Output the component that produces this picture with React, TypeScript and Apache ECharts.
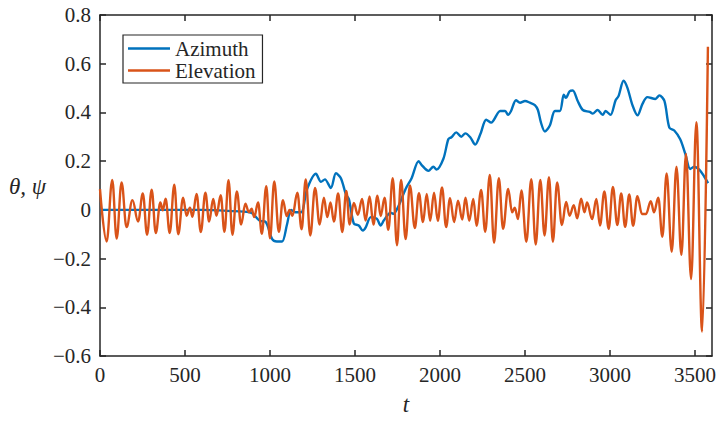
import React, { useEffect, useRef } from 'react';
import * as echarts from 'echarts';

const seriesNames = ['Azimuth', 'Elevation'];
const xAxisName = 't';
const yAxisName = 'θ, ψ';

// [t, value] samples
const azimuth: [number, number][] = [
  [0, 0], [300, 0], [600, 0], [780, -0.005], [880, -0.01], [900, -0.016], [940, -0.045], [975, -0.05],
  [1013, -0.12], [1040, -0.13], [1071, -0.13], [1100, -0.06], [1124, 0], [1150, -0.01], [1183, -0.01],
  [1218, 0.085], [1270, 0.148], [1300, 0.115], [1323, 0.125], [1358, 0.09], [1388, 0.15], [1417, 0.13],
  [1446, 0.065], [1464, 0.044], [1493, -0.056], [1522, -0.064], [1546, -0.085], [1563, -0.072],
  [1593, -0.03], [1628, -0.036], [1651, -0.064], [1669, -0.044], [1710, -0.012], [1727, -0.016],
  [1756, 0.016], [1797, 0.085], [1833, 0.13], [1874, 0.2], [1891, 0.185], [1932, 0.16], [1961, 0.177],
  [1979, 0.165], [2020, 0.21], [2049, 0.29], [2067, 0.298], [2096, 0.318], [2125, 0.3], [2149, 0.314],
  [2178, 0.298], [2207, 0.268], [2237, 0.31], [2272, 0.37], [2301, 0.358], [2354, 0.406], [2383, 0.406],
  [2400, 0.39], [2418, 0.406], [2447, 0.45], [2471, 0.44], [2500, 0.447], [2529, 0.44], [2558, 0.43],
  [2576, 0.41], [2594, 0.358], [2617, 0.322], [2646, 0.346], [2676, 0.406], [2705, 0.406], [2728, 0.473],
  [2740, 0.46], [2763, 0.487], [2781, 0.49], [2810, 0.447], [2840, 0.41], [2881, 0.402], [2898, 0.395],
  [2927, 0.41], [2957, 0.39], [2974, 0.406], [3003, 0.39], [3033, 0.45], [3050, 0.467], [3080, 0.53],
  [3103, 0.5], [3132, 0.43], [3162, 0.388], [3191, 0.435], [3220, 0.463], [3267, 0.455], [3290, 0.47],
  [3320, 0.447], [3349, 0.338], [3378, 0.326], [3413, 0.29], [3443, 0.23], [3472, 0.168], [3495, 0.177],
  [3525, 0.165], [3554, 0.137], [3577, 0.11],
];

// peaks and troughs of the elevation oscillation
const elevation: [number, number][] = [
  [0, 0.085], [39, -0.13], [72, 0.123], [98, -0.118], [127, 0.113], [156, -0.071], [191, 0.04], [224, -0.048],
  [252, 0.067], [277, -0.102], [304, 0.083], [328, -0.095], [355, 0.03], [369, -0.002], [386, 0.046],
  [410, -0.095], [437, 0.103], [460, -0.1], [489, 0.05], [509, -0.024], [529, 0.009], [544, -0.028],
  [568, 0.065], [593, -0.091], [620, 0.07], [642, -0.048], [666, 0.045], [685, -0.024], [710, 0.06],
  [732, -0.09], [756, 0.122], [779, -0.102], [805, 0.076], [830, -0.06], [855, 0.025], [876, -0.01],
  [892, 0.005], [907, -0.03], [930, 0.03], [952, -0.098], [978, 0.097], [1000, -0.117], [1025, 0.117],
  [1052, -0.09], [1076, 0.04], [1098, -0.025], [1115, 0.0], [1132, -0.024], [1161, 0.07], [1186, -0.08],
  [1210, 0.125], [1237, -0.105], [1265, 0.09], [1292, -0.06], [1317, 0.05], [1337, -0.03], [1356, 0.03],
  [1376, -0.048], [1401, 0.067], [1425, -0.091], [1449, 0.078], [1468, -0.06], [1493, 0.028], [1517, -0.02],
  [1542, 0.045], [1562, -0.044], [1586, 0.055], [1608, -0.06], [1632, 0.058], [1651, -0.025], [1674, 0.05],
  [1696, -0.082], [1722, 0.13], [1747, -0.145], [1771, 0.123], [1798, -0.12], [1823, 0.1], [1852, -0.075],
  [1876, 0.068], [1900, -0.05], [1922, 0.065], [1942, -0.045], [1965, 0.07], [1987, -0.045], [2012, 0.092],
  [2036, -0.071], [2059, 0.048], [2083, -0.05], [2106, 0.038], [2131, -0.04], [2150, 0.05], [2172, -0.045],
  [2196, 0.045], [2215, -0.065], [2242, 0.082], [2266, -0.09], [2293, 0.143], [2318, -0.135], [2346, 0.13],
  [2371, -0.078], [2401, 0.086], [2424, -0.01], [2440, 0.009], [2459, -0.038], [2479, 0.08], [2508, -0.131],
  [2537, 0.126], [2563, -0.142], [2590, 0.123], [2615, -0.105], [2641, 0.134], [2664, -0.131], [2689, 0.113],
  [2717, -0.062], [2742, 0.032], [2762, -0.024], [2787, 0.019], [2807, -0.035], [2830, 0.046], [2850, -0.01],
  [2865, 0.03], [2895, -0.038], [2920, 0.045], [2941, -0.064], [2967, 0.076], [2992, -0.078], [3017, 0.094],
  [3043, -0.062], [3066, 0.067], [3089, -0.07], [3113, 0.063], [3136, -0.065], [3161, 0.056], [3188, -0.017],
  [3212, -0.017], [3240, 0.036], [3259, -0.01], [3284, 0.05], [3308, -0.111], [3333, 0.149], [3363, -0.172],
  [3391, 0.177], [3420, -0.185], [3447, 0.23], [3477, -0.284], [3508, 0.36], [3542, -0.5], [3576, 0.67],
];

const xRange = { min: 0, max: 3600, interval: 500 };
const yRange = { min: -0.6, max: 0.8, interval: 0.2 };

export default function App() {
  const ref = useRef<HTMLDivElement>(null);
  useEffect(() => {
    const chart = echarts.init(ref.current!, null, { renderer: 'svg' });
    const font = 'Liberation Serif';
    const ink = '#262626';
    const axisLine = { show: true, onZero: false, lineStyle: { color: ink, width: 1.5 } };
    const axisTick = { show: true, inside: true, length: 6, lineStyle: { color: ink, width: 1.5 } };
    const fmtY = (v: number) => {
      const r = Math.round(v * 10) / 10;
      if (r === 0) return '0';
      return (r < 0 ? '\u2212' : '') + Math.abs(r).toFixed(1);
    };
    const fmtX = (v: number) => String(Math.round(v));
    chart.setOption({
      animation: false,
      backgroundColor: '#ffffff',
      grid: { left: 100, right: 3, top: 15, bottom: 58, containLabel: false },
      xAxis: [
        {
          type: 'value', ...xRange, position: 'bottom',
          axisLine, axisTick,
          axisLabel: { color: ink, fontFamily: font, fontSize: 21, margin: 8, showMaxLabel: false, formatter: fmtX },
          splitLine: { show: false },
          name: xAxisName, nameLocation: 'middle', nameGap: 37,
          nameTextStyle: { color: ink, fontFamily: font, fontSize: 23, fontStyle: 'italic' },
        },
        {
          type: 'value', ...xRange, position: 'top',
          axisLine, axisTick, axisLabel: { show: false }, splitLine: { show: false },
        },
      ],
      yAxis: [
        {
          type: 'value', ...yRange, position: 'left',
          axisLine, axisTick,
          axisLabel: { color: ink, fontFamily: font, fontSize: 21, margin: 9, formatter: fmtY },
          splitLine: { show: false },
        },
        {
          type: 'value', ...yRange, position: 'right',
          axisLine, axisTick, axisLabel: { show: false }, splitLine: { show: false },
        },
      ],
      graphic: [
        {
          type: 'text', left: 9, top: 175,
          style: { text: yAxisName, font: 'italic 23px "Liberation Serif"', fill: ink },
        },
      ],
      legend: {
        show: true,
        orient: 'vertical',
        left: 123, top: 35,
        padding: [3, 7, 2, 5],
        itemGap: 1,
        itemWidth: 42, itemHeight: 2.5,
        icon: 'rect',
        borderColor: ink, borderWidth: 1.2,
        backgroundColor: '#ffffff',
        textStyle: { color: ink, fontFamily: font, fontSize: 21, padding: [0, 0, 0, 0] },
        data: seriesNames,
      },
      series: [
        {
          name: seriesNames[0], type: 'line', data: azimuth,
          xAxisIndex: 0, yAxisIndex: 0,
          showSymbol: false, symbol: 'none', smooth: 0.3,
          lineStyle: { color: '#0072BD', width: 2.4 }, itemStyle: { color: '#0072BD' },
        },
        {
          name: seriesNames[1], type: 'line', data: elevation,
          xAxisIndex: 0, yAxisIndex: 0,
          showSymbol: false, symbol: 'none', smooth: 0.38, smoothMonotone: 'x',
          lineStyle: { color: '#D95319', width: 2.4 }, itemStyle: { color: '#D95319' },
        },
      ],
    });
    return () => chart.dispose();
  }, []);
  return (
    <div
      ref={ref}
      style={{ position: 'fixed', left: 0, top: 0, width: 719, height: 421, background: '#fff' }}
    />
  );
}
